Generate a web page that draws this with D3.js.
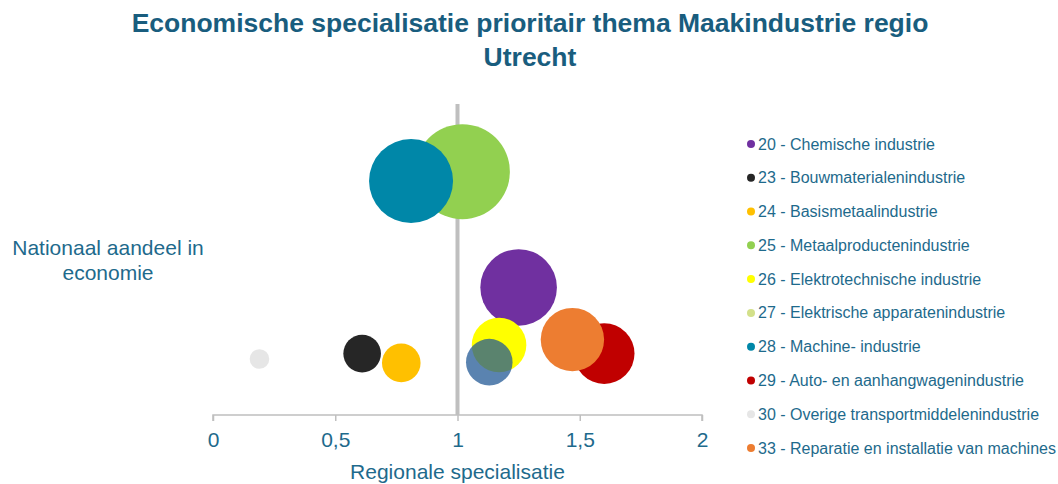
<!DOCTYPE html>
<html>
<head>
<meta charset="utf-8">
<script src="https://cdn.jsdelivr.net/npm/d3@7"></script>
<style>
  html, body { margin: 0; padding: 0; background: #ffffff; }
  svg { display: block; font-family: "Liberation Sans", Arial, sans-serif; }
</style>
</head>
<body>
<svg id="chart" width="1058" height="484"></svg>
<script>
// Sectors (legend order)
const sectors = [
    '20 - Chemische industrie',
    '23 - Bouwmaterialenindustrie',
    '24 - Basismetaalindustrie',
    '25 - Metaalproductenindustrie',
    '26 - Elektrotechnische industrie',
    '27 - Elektrische apparatenindustrie',
    '28 - Machine- industrie',
    '29 - Auto- en aanhangwagenindustrie',
    '30 - Overige transportmiddelenindustrie',
    '33 - Reparatie en installatie van machines'
];
// Regional specialisation (x)
const specialisation = [1.25, 0.61, 0.77, 1.02, 1.17, 1.13, 0.81, 1.60, 0.19, 1.47];
// National share in economy (y, unlabelled axis)
const nationalShare = [1.64, 0.79, 0.67, 3.13, 0.90, 0.68, 3.01, 0.79, 0.72, 0.97];
// Bubble size (relative employment)
const bubbleSize = [6500, 1570, 1650, 10000, 3300, 2400, 7820, 4070, 425, 4450];

const xTicks = [0, 0.5, 1, 1.5, 2];

const legendColors = ['#7030a0', '#262626', '#ffc000', '#92d050', '#ffff00',
    '#d3e08a', '#0087a8', '#c00000', '#e6e6e6', '#ed7d31'];
const bubbleColors = ['#7030a0', '#262626', '#ffc000', '#92d050', '#ffff00',
    'rgb(33,88,148)', '#0087a8', '#c00000', '#e6e6e6', '#ed7d31'];
const bubbleOpacity = [1, 1, 1, 1, 1, 0.74, 1, 1, 1, 1];

const titleColor = '#195d7e';
const textColor = '#1e6a8c';

const svg = d3.select('#chart');

// Title
svg.append('text')
    .attr('x', 530).attr('y', 32)
    .attr('text-anchor', 'middle')
    .attr('font-size', 26.5).attr('font-weight', 'bold')
    .attr('fill', titleColor)
    .text('Economische specialisatie prioritair thema Maakindustrie regio');
svg.append('text')
    .attr('x', 530).attr('y', 66)
    .attr('text-anchor', 'middle')
    .attr('font-size', 26.5).attr('font-weight', 'bold')
    .attr('fill', titleColor)
    .text('Utrecht');

// Scales
const xScale = d3.scaleLinear().domain([0, 2]).range([213, 702]);
const yScale = d3.scaleLinear().domain([0, 4]).range([415, 104]);
const rScale = d3.scaleSqrt().domain([0, d3.max(bubbleSize)]).range([0, 47.5]);

// x axis
const xAxis = d3.axisBottom(xScale)
    .tickValues(xTicks)
    .tickSize(6)
    .tickPadding(11)
    .tickFormat((t) => String(t).replace('.', ','));
const axisG = svg.append('g')
    .attr('transform', `translate(0, ${yScale(0)})`)
    .call(xAxis);
axisG.select('.domain').attr('stroke', '#bfbfbf').attr('stroke-width', 1.5)
    .attr('d', `M${xScale(0)},6V0H${xScale(2)}V6`);
axisG.selectAll('.tick line').attr('stroke', '#bfbfbf').attr('stroke-width', 1.5);
axisG.selectAll('.tick text')
    .attr('font-size', 21).attr('fill', textColor)
    .attr('font-family', '"Liberation Sans", Arial, sans-serif');

// Reference line at x = 1
svg.append('line')
    .attr('x1', xScale(1)).attr('x2', xScale(1))
    .attr('y1', yScale(4)).attr('y2', yScale(0))
    .attr('stroke', '#bfbfbf').attr('stroke-width', 4);

// Bubbles
svg.append('g')
    .selectAll('circle')
    .data(sectors.map((s, i) => i))
    .join('circle')
    .attr('cx', (i) => xScale(specialisation[i]))
    .attr('cy', (i) => yScale(nationalShare[i]))
    .attr('r', (i) => rScale(bubbleSize[i]))
    .attr('fill', (i) => bubbleColors[i])
    .attr('fill-opacity', (i) => bubbleOpacity[i]);

// Axis titles
svg.append('text')
    .attr('x', xScale(1)).attr('y', 479)
    .attr('text-anchor', 'middle')
    .attr('font-size', 21).attr('fill', textColor)
    .text('Regionale specialisatie');
const yTitle = svg.append('text')
    .attr('text-anchor', 'middle')
    .attr('font-size', 21).attr('fill', textColor);
yTitle.append('tspan').attr('x', 108).attr('y', 255).text('Nationaal aandeel in');
yTitle.append('tspan').attr('x', 108).attr('y', 280).text('economie');

// Legend
const legend = svg.append('g');
const legendRow = d3.scaleLinear().domain([0, 9]).range([144, 448]);
const items = legend.selectAll('g')
    .data(sectors)
    .join('g')
    .attr('transform', (d, i) => `translate(751, ${legendRow(i)})`);
items.append('circle')
    .attr('r', 4)
    .attr('fill', (d, i) => legendColors[i]);
items.append('text')
    .attr('x', 7).attr('y', 5.5)
    .attr('font-size', 16).attr('fill', textColor)
    .text((d) => d);
</script>
</body>
</html>
